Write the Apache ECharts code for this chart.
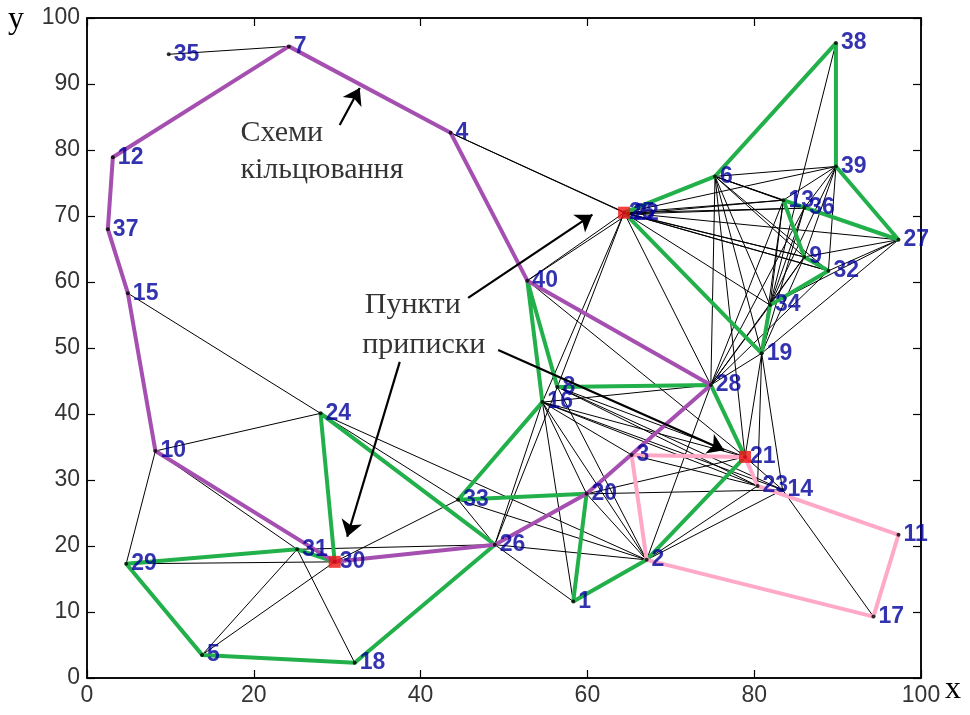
<!DOCTYPE html>
<html>
<head>
<meta charset="utf-8">
<script src="https://cdn.jsdelivr.net/npm/echarts@6/dist/echarts.min.js"></script>
<style>html,body{margin:0;padding:0;background:#fff}#c{width:970px;height:715px}</style>
</head>
<body>
<div id="c"></div>
<script>
// ---- data ----
const nodeX = [58.3,67.1,65.3,43.6,13.8,75.3,24.2,56.4,86.0,8.2,97.3,3.1,83.5,83.4,4.9,54.6,94.3,32.1,80.9,59.9,78.9,64.9,80.4,28.0,64.4,48.9,97.3,74.8,4.7,29.7,25.2,88.9,44.5,81.9,9.8,86.0,2.5,89.8,89.8,52.8];
const nodeY = [11.6,17.9,33.8,82.6,3.5,76.0,95.7,44.1,63.8,34.4,21.7,78.9,72.4,28.5,58.3,41.8,9.3,2.3,49.2,27.9,33.5,70.3,29.1,40.1,70.5,20.2,66.4,44.4,17.3,17.6,19.5,61.7,27.0,56.5,94.5,71.2,68.0,96.2,77.5,60.2];
const depots = [25, 30, 21];
const edges = [[35,7],[4,25],[4,22],[15,24],[24,10],[10,29],[29,30],[5,31],[5,30],[31,18],[30,33],[31,26],[10,31],[24,26],[24,33],[24,2],[33,2],[26,2],[26,16],[26,8],[26,1],[20,2],[20,16],[16,1],
[25,40],[22,40],[25,8],[25,16],[25,28],[25,34],[25,6],[25,13],[25,36],[25,39],[25,9],[25,32],[25,27],[22,9],[22,32],[22,36],[22,13],
[6,39],[6,9],[6,32],[6,34],[6,21],[6,36],[6,13],[6,27],[6,19],
[39,13],[39,36],[39,9],[39,34],[39,32],[38,34],
[27,36],[27,9],[27,32],[27,34],[27,19],
[19,21],[19,14],[19,23],[19,28],[19,36],[19,13],[19,9],
[34,13],[34,36],[34,9],[34,28],
[28,9],[28,32],[28,36],[28,13],[28,6],[28,2],[28,3],
[16,21],[16,23],[16,14],[16,2],[16,3],[16,28],[8,21],[8,23],[8,14],[8,28],[8,2],
[40,16],[40,8],[40,21],
[21,23],[21,14],[21,20],[3,23],[2,23],[2,14],[14,17],[23,11],[20,14],[33,26],[1,2]];
const purpleRing = [7,4,40,28,20,26,30,10,15,37,12,7];
const greenRingA = [30,24,26,18,5,29,31,30];
const greenRingB = [33,16,40,8,28,21,2,1,20,33];
const greenRingC = [25,6,38,39,27,13,9,32,34,19,25];
const pinkRing = [3,21,23,11,17,2,3];
const xTicks = [0,20,40,60,80,100];
const yTicks = [0,10,20,30,40,50,60,70,80,90,100];
// annotations (data coords)
const noteTexts = [["Схеми",18.4,82.6],["кільцювання",18.4,77.0],["Пункти",33.3,56.5],["приписки",33.0,50.5]];
const noteArrows = [[[30.3,83.8],[32.7,89.4]],[[45.7,57.6],[60.6,70.2]],[[37.5,47.9],[31.2,21.4]],[[49.3,49.7],[76.4,34.5]]];

// ---- build ----
const pt = id => [nodeX[id-1], nodeY[id-1]];
const ringSeries = (ring, color) => ({
  type:'line', data: ring.map(pt), symbol:'none', z:3,
  lineStyle:{color:color, width:4}, silent:true, animation:false
});
const chart = echarts.init(document.getElementById('c'));
const fontTick = {fontFamily:'Liberation Sans, Arial', fontSize:23, color:'#333'};
chart.setOption({
  animation:false,
  grid:{left:87, right:49, top:18, bottom:37, show:true, borderColor:'#000', borderWidth:1.5},
  xAxis:[
    {type:'value', min:0, max:100, interval:20, position:'bottom',
     axisLine:{show:true, onZero:false, lineStyle:{color:'#000', width:1.5}},
     axisTick:{show:true, inside:true, length:8, lineStyle:{color:'#000', width:1.2}},
     axisLabel:Object.assign({margin:6, formatter:v=> xTicks.includes(v)? String(v):''}, fontTick),
     splitLine:{show:false}},
    {type:'value', min:0, max:100, interval:20, position:'top',
     axisLine:{show:true, onZero:false, lineStyle:{color:'#000', width:1.5}},
     axisTick:{show:true, inside:true, length:8, lineStyle:{color:'#000', width:1.2}},
     axisLabel:{show:false}, splitLine:{show:false}}
  ],
  yAxis:[
    {type:'value', min:0, max:100, interval:10, position:'left',
     axisLine:{show:true, onZero:false, lineStyle:{color:'#000', width:1.5}},
     axisTick:{show:true, inside:true, length:8, lineStyle:{color:'#000', width:1.2}},
     axisLabel:Object.assign({margin:7, formatter:v=> yTicks.includes(v)? String(v):''}, fontTick),
     splitLine:{show:false}},
    {type:'value', min:0, max:100, interval:10, position:'right',
     axisLine:{show:true, onZero:false, lineStyle:{color:'#000', width:1.5}},
     axisTick:{show:true, inside:true, length:8, lineStyle:{color:'#000', width:1.2}},
     axisLabel:{show:false}, splitLine:{show:false}}
  ],
  graphic:[
    {type:'text', left:8, top:4, style:{text:'y', font:'32px "Liberation Serif", serif', fill:'#000'}},
    {type:'text', left:945, top:674, style:{text:'x', font:'32px "Liberation Serif", serif', fill:'#000'}}
  ],
  series:[
    {type:'lines', coordinateSystem:'cartesian2d', z:2, silent:true,
     data: edges.map(e=>({coords:[pt(e[0]), pt(e[1])]})),
     lineStyle:{color:'#000', width:1, opacity:1}},
    ringSeries(greenRingA, '#22b04a'),
    ringSeries(greenRingB, '#22b04a'),
    ringSeries(greenRingC, '#22b04a'),
    ringSeries(pinkRing, '#ffa8c8'),
    ringSeries(purpleRing, '#a54fb0'),
    {type:'scatter', z:5, symbol:'circle', symbolSize:4, silent:true,
     itemStyle:{color:'#000'},
     data: nodeX.map((x,i)=>({value:[x,nodeY[i]], name:String(i+1)})),
     label:{show:true, position:'right', distance:3, formatter:p=>p.name,
            fontFamily:'Liberation Sans, Arial', fontSize:23, fontWeight:'bold', color:'#00009c',
            textBorderWidth:0}},
    {type:'scatter', z:6, symbol:'rect', symbolSize:12, silent:true,
     itemStyle:{color:'#ee1111'}, data: depots.map(pt)},
    {type:'lines', coordinateSystem:'cartesian2d', z:7, silent:true,
     symbol:['none','arrow'], symbolSize:[0,16],
     data: noteArrows.map(a=>({coords:a})),
     lineStyle:{color:'#000', width:2.2, opacity:1}},
    {type:'scatter', z:7, symbolSize:0, silent:true,
     data: noteTexts.map(t=>({value:[t[1],t[2]], name:t[0]})),
     label:{show:true, position:'right', distance:0, formatter:p=>p.name,
            fontFamily:'Liberation Serif, Times New Roman, serif', fontSize:30, color:'#000'}}
  ]
});
</script>
</body>
</html>
